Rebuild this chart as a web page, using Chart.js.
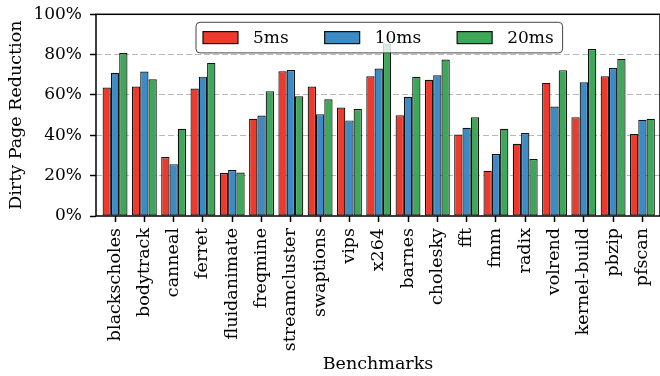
<!DOCTYPE html>
<html>
<head>
<meta charset="utf-8">
<script src="https://cdn.jsdelivr.net/npm/chart.js@4/dist/chart.umd.min.js"></script>
<style>
  html, body { margin: 0; padding: 0; background: #fff; }
  #c { display: block; }
</style>
</head>
<body>
<canvas id="c" width="660" height="376"></canvas>
<script>
// Benchmarks and dirty-page reduction (%) per sampling interval
const benchmarks = ['blackscholes', 'bodytrack', 'canneal', 'ferret', 'fluidanimate', 'freqmine',
  'streamcluster', 'swaptions', 'vips', 'x264', 'barnes', 'cholesky', 'fft', 'fmm', 'radix',
  'volrend', 'kernel-build', 'pbzip', 'pfscan'];
const seriesNames = ['5ms', '10ms', '20ms'];
const reduction5ms  = [63.7, 64.2, 29.2, 63.2, 21.3, 48.2, 71.8, 64.2, 53.8, 69.3, 50.0, 67.5, 40.4, 22.4, 35.8, 66.0, 49.0, 69.3, 40.7];
const reduction10ms = [71.0, 71.6, 25.7, 69.1, 22.8, 49.8, 72.4, 50.5, 47.4, 73.1, 59.1, 69.8, 43.7, 30.7, 41.1, 54.3, 66.3, 73.4, 47.7];
const reduction20ms = [80.8, 67.8, 43.2, 75.9, 21.6, 61.9, 59.4, 57.9, 53.0, 85.5, 69.0, 77.6, 48.9, 43.2, 28.2, 72.3, 82.8, 77.9, 48.2];
const yTickValues = [0, 20, 40, 60, 80, 100];

const colors = ['#ee3a2d', '#3d8bc5', '#3ea75a'];
const FONT = '"DejaVu Serif", "Liberation Serif", serif';

const toPoints = vals => vals.map((v, i) => ({ x: i, y: v }));
const seriesValues = [reduction5ms, reduction10ms, reduction20ms];

// Box spines around the plot area
const frame = {
  id: 'frame',
  afterDatasetsDraw(chart) {
    const { ctx, chartArea: a } = chart;
    ctx.save();
    ctx.strokeStyle = '#000';
    ctx.lineWidth = 1.5;
    ctx.strokeRect(a.left, a.top, a.right - a.left, a.bottom - a.top);
    ctx.restore();
  }
};

// Legend drawn inside the plot, on top of the bars, semi-transparent
const insetLegend = {
  id: 'insetLegend',
  afterDatasetsDraw(chart) {
    const { ctx, chartArea: a } = chart;
    ctx.save();
    ctx.font = '17px ' + FONT;
    const sw = 35, sh = 12, padL = 7, padR = 9, gapText = 15, gapItem = 36;
    const items = chart.data.datasets.map(ds => ({
      label: ds.label, color: ds.backgroundColor, w: ctx.measureText(ds.label).width
    }));
    let total = padL + padR;
    items.forEach((it, i) => { total += sw + gapText + it.w + (i ? gapItem : 0); });
    const x0 = a.left + 100, y0 = a.top + 8, h = 30.6, r = 4;
    const x1 = x0 + total, y1 = y0 + h;
    ctx.beginPath();
    ctx.moveTo(x0 + r, y0);
    ctx.lineTo(x1 - r, y0); ctx.arcTo(x1, y0, x1, y0 + r, r);
    ctx.lineTo(x1, y1 - r); ctx.arcTo(x1, y1, x1 - r, y1, r);
    ctx.lineTo(x0 + r, y1); ctx.arcTo(x0, y1, x0, y1 - r, r);
    ctx.lineTo(x0, y0 + r); ctx.arcTo(x0, y0, x0 + r, y0, r);
    ctx.closePath();
    ctx.fillStyle = 'rgba(255,255,255,0.8)';
    ctx.fill();
    ctx.strokeStyle = '#444';
    ctx.lineWidth = 1;
    ctx.stroke();
    let x = x0 + padL;
    const cy = y0 + h / 2;
    items.forEach((it, i) => {
      if (i) x += gapItem;
      ctx.fillStyle = it.color;
      ctx.fillRect(x, cy - sh / 2, sw, sh);
      ctx.strokeStyle = '#111';
      ctx.lineWidth = 1.2;
      ctx.strokeRect(x, cy - sh / 2, sw, sh);
      x += sw + gapText;
      ctx.fillStyle = '#000';
      ctx.textBaseline = 'middle';
      ctx.textAlign = 'left';
      ctx.fillText(it.label, x, cy + 1);
      x += it.w;
    });
    ctx.restore();
  }
};

// Fixed axis sizes so the plot area sits at a set place
const fixBox = size => s => {
  if (s.isHorizontal()) s.height = size; else s.width = size;
  s.paddingTop = 0; s.paddingBottom = 0; s.paddingLeft = 0; s.paddingRight = 0;
};

new Chart(document.getElementById('c'), {
  type: 'bar',
  data: {
    datasets: seriesNames.map((name, k) => ({
      label: name,
      data: toPoints(seriesValues[k]),
      backgroundColor: colors[k],
      borderColor: '#111',
      borderWidth: 1.2,
      borderSkipped: false,
      categoryPercentage: 0.85,
      barPercentage: 1.0
    }))
  },
  options: {
    responsive: false,
    animation: false,
    devicePixelRatio: 1,
    layout: { padding: { top: 14.3, right: 0, left: 0, bottom: 0 } },
    plugins: { legend: { display: false }, tooltip: { enabled: false } },
    scales: {
      x: {
        type: 'linear',
        min: -0.65,
        max: 18.6,
        offset: false,
        afterBuildTicks: s => { s.ticks = benchmarks.map((_, i) => ({ value: i })); },
        afterFit: fixBox(160),
        grid: { offset: false, drawOnChartArea: false, drawTicks: true, tickLength: 6, tickColor: '#000', tickWidth: 1.5 },
        border: { display: false },
        ticks: {
          autoSkip: false, minRotation: 90, maxRotation: 90, padding: 6, color: '#000',
          font: { family: FONT, size: 17.5 },
          callback: v => benchmarks[v]
        },
        title: { display: true, text: 'Benchmarks', color: '#000', font: { family: FONT, size: 17.5 }, padding: { top: 4, bottom: 1 } }
      },
      y: {
        min: 0,
        max: 100,
        afterBuildTicks: s => { s.ticks = yTickValues.map(v => ({ value: v })); },
        afterFit: fixBox(96),
        grid: {
          color: c => (c.tick && c.tick.value > 0 && c.tick.value < 100) ? '#b8b8b8' : 'rgba(0,0,0,0)',
          lineWidth: 1, tickColor: '#000', tickLength: 6, tickWidth: 1.5
        },
        border: { display: false, dash: [6, 3] },
        ticks: {
          padding: 8, color: '#000', font: { family: FONT, size: 17 },
          callback: v => v + '%'
        },
        title: { display: true, text: 'Dirty Page Reduction', color: '#000', font: { family: FONT, size: 17.5 }, padding: { top: 6, bottom: 0 } }
      }
    }
  },
  plugins: [frame, insetLegend]
});
</script>
</body>
</html>
